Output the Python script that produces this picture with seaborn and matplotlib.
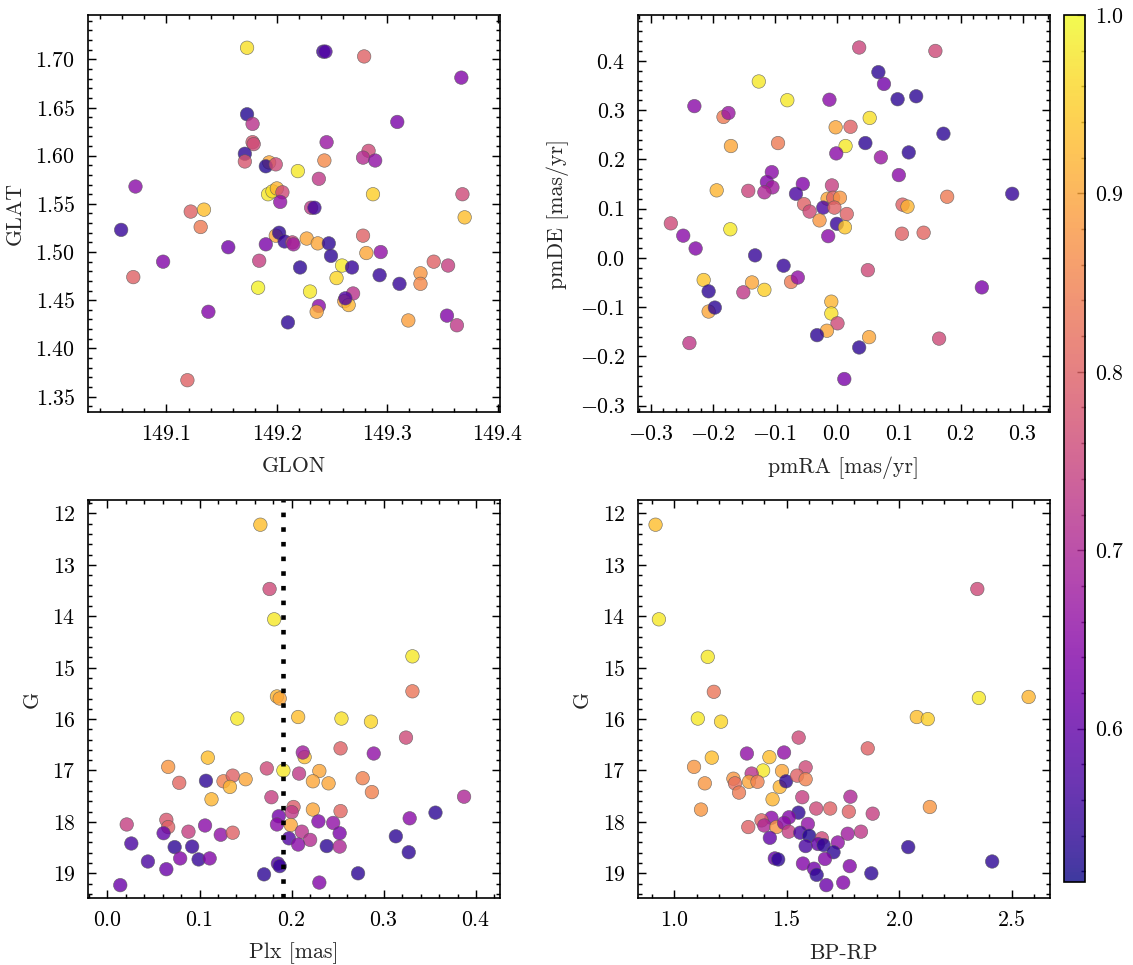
import numpy as np
import pandas as pd
import matplotlib
matplotlib.use('Agg')
import matplotlib.pyplot as plt
from matplotlib.ticker import MultipleLocator, AutoMinorLocator
from matplotlib.colors import Normalize
from matplotlib.cm import ScalarMappable
import seaborn as sns

# posiciones galacticas (panel superior izq.)
glon = [149.173, 149.242, 149.244, 149.279, 149.367, 149.173, 149.178, 149.309, 149.178, 149.179,
        149.245, 149.171, 149.171, 149.193, 149.190, 149.199, 149.243, 149.283, 149.278, 149.289,
        149.219, 149.238, 149.287, 149.072, 149.192, 149.196, 149.200, 149.205, 149.203, 149.231,
        149.234, 149.368, 149.370, 149.122, 149.134, 149.131, 149.059, 149.156, 149.097, 149.070,
        149.199, 149.202, 149.207, 149.190, 149.214, 149.215, 149.227, 149.237, 149.247, 149.249,
        149.278, 149.281, 149.294, 149.184, 149.221, 149.259, 149.268, 149.254, 149.293, 149.311,
        149.330, 149.330, 149.342, 149.355, 149.183, 149.230, 149.269, 149.261, 149.265, 149.262,
        149.238, 149.236, 149.138, 149.210, 149.319, 149.354, 149.363, 149.119]
glat = [1.712, 1.708, 1.708, 1.703, 1.681, 1.643, 1.633, 1.635, 1.614, 1.612,
        1.614, 1.602, 1.594, 1.593, 1.589, 1.591, 1.595, 1.605, 1.598, 1.595,
        1.584, 1.576, 1.560, 1.568, 1.560, 1.563, 1.566, 1.562, 1.552, 1.546,
        1.546, 1.560, 1.536, 1.542, 1.544, 1.526, 1.523, 1.505, 1.490, 1.474,
        1.517, 1.520, 1.511, 1.508, 1.510, 1.508, 1.514, 1.509, 1.509, 1.496,
        1.517, 1.499, 1.500, 1.491, 1.484, 1.486, 1.484, 1.473, 1.476, 1.467,
        1.478, 1.467, 1.490, 1.486, 1.463, 1.459, 1.457, 1.449, 1.445, 1.452,
        1.444, 1.438, 1.438, 1.427, 1.429, 1.434, 1.424, 1.367]
prob_pos = [0.97, 0.56, 0.58, 0.80, 0.64, 0.53, 0.72, 0.63, 0.78, 0.76,
            0.67, 0.54, 0.78, 0.90, 0.53, 0.76, 0.86, 0.76, 0.71, 0.66,
            0.98, 0.73, 0.95, 0.65, 0.98, 0.97, 0.92, 0.76, 0.66, 0.73,
            0.56, 0.76, 0.93, 0.80, 0.93, 0.84, 0.55, 0.62, 0.64, 0.80,
            0.90, 0.54, 0.55, 0.63, 0.75, 0.68, 0.90, 0.90, 0.54, 0.54,
            0.80, 0.90, 0.66, 0.74, 0.54, 0.98, 0.55, 0.96, 0.55, 0.55,
            0.88, 0.86, 0.80, 0.74, 0.99, 0.98, 0.72, 0.90, 0.92, 0.58,
            0.65, 0.90, 0.64, 0.54, 0.89, 0.64, 0.73, 0.80]

# movimientos propios (panel superior der.)
pmra = [0.036, 0.159, 0.067, 0.076, 0.098, 0.128, -0.126, -0.080, -0.012, -0.230,
        -0.183, -0.175, 0.053, -0.002, 0.022, 0.172, -0.171, -0.095, 0.014, 0.046,
        -0.001, 0.071, 0.116, 0.100, -0.105, -0.113, -0.104, -0.117, -0.143, -0.194,
        -0.055, -0.066, -0.008, -0.015, -0.006, 0.005, -0.053, -0.044, -0.022, -0.004,
        -0.028, 0.016, 0.000, 0.013, -0.014, 0.106, 0.114, 0.178, 0.283, 0.105,
        0.140, -0.268, -0.248, -0.228, -0.172, -0.132, -0.086, 0.050, -0.074, -0.063,
        -0.215, -0.137, -0.117, -0.151, -0.207, -0.207, -0.197, 0.234, -0.009, -0.009,
        0.001, -0.016, -0.032, 0.052, 0.036, 0.165, -0.238, 0.012]
pmde = [0.427, 0.420, 0.377, 0.353, 0.322, 0.328, 0.358, 0.320, 0.321, 0.308,
        0.286, 0.294, 0.284, 0.265, 0.266, 0.252, 0.227, 0.233, 0.227, 0.233,
        0.212, 0.204, 0.214, 0.168, 0.174, 0.154, 0.143, 0.133, 0.136, 0.137,
        0.150, 0.130, 0.147, 0.120, 0.122, 0.122, 0.109, 0.094, 0.102, 0.102,
        0.076, 0.089, 0.069, 0.062, 0.044, 0.108, 0.104, 0.124, 0.130, 0.049,
        0.051, 0.070, 0.045, 0.019, 0.058, 0.005, -0.016, -0.025, -0.049, -0.040,
        -0.045, -0.050, -0.065, -0.070, -0.068, -0.109, -0.101, -0.060, -0.089, -0.113,
        -0.133, -0.148, -0.157, -0.161, -0.182, -0.164, -0.173, -0.246]
prob_pm = [0.75, 0.76, 0.54, 0.62, 0.54, 0.54, 0.98, 0.98, 0.65, 0.65,
           0.84, 0.67, 0.97, 0.90, 0.80, 0.54, 0.90, 0.84, 0.98, 0.54,
           0.65, 0.67, 0.54, 0.65, 0.65, 0.64, 0.68, 0.70, 0.75, 0.92,
           0.64, 0.57, 0.74, 0.90, 0.80, 0.88, 0.80, 0.76, 0.57, 0.80,
           0.88, 0.80, 0.55, 0.94, 0.65, 0.80, 0.92, 0.84, 0.55, 0.80,
           0.81, 0.76, 0.65, 0.64, 0.98, 0.55, 0.55, 0.76, 0.84, 0.66,
           0.94, 0.90, 0.95, 0.73, 0.54, 0.90, 0.54, 0.63, 0.92, 0.97,
           0.76, 0.90, 0.54, 0.90, 0.54, 0.76, 0.73, 0.63]

# paralaje vs magnitud (panel inferior izq.)
plx = [0.166, 0.176, 0.181, 0.331, 0.331, 0.184, 0.187, 0.141, 0.207, 0.254,
       0.286, 0.324, 0.253, 0.289, 0.214, 0.212, 0.109, 0.066, 0.173, 0.191,
       0.208, 0.230, 0.223, 0.240, 0.277, 0.287, 0.078, 0.107, 0.126, 0.136,
       0.133, 0.150, 0.113, 0.178, 0.387, 0.202, 0.200, 0.223, 0.253, 0.356,
       0.328, 0.186, 0.184, 0.199, 0.229, 0.245, 0.252, 0.211, 0.220, 0.197,
       0.207, 0.238, 0.252, 0.313, 0.327, 0.021, 0.064, 0.066, 0.061, 0.088,
       0.106, 0.123, 0.136, 0.026, 0.073, 0.092, 0.044, 0.079, 0.099, 0.111,
       0.064, 0.014, 0.185, 0.187, 0.170, 0.230, 0.272]
g_plx = [12.22, 13.47, 14.06, 14.78, 15.46, 15.56, 15.60, 15.99, 15.96, 15.99,
         16.05, 16.36, 16.57, 16.67, 16.74, 16.65, 16.75, 16.93, 16.96, 17.00,
         17.06, 17.01, 17.21, 17.25, 17.15, 17.42, 17.24, 17.20, 17.21, 17.10,
         17.32, 17.17, 17.56, 17.52, 17.51, 17.71, 17.81, 17.76, 17.79, 17.82,
         17.93, 17.89, 18.05, 18.06, 17.99, 18.02, 18.22, 18.19, 18.35, 18.32,
         18.44, 18.47, 18.48, 18.28, 18.59, 18.05, 17.96, 18.10, 18.22, 18.19,
         18.07, 18.25, 18.21, 18.42, 18.49, 18.48, 18.77, 18.71, 18.73, 18.71,
         18.92, 19.23, 18.81, 18.86, 19.02, 19.18, 19.00]
prob_plx = [0.93, 0.76, 0.98, 0.98, 0.83, 0.92, 0.90, 0.98, 0.93, 0.97,
            0.96, 0.76, 0.80, 0.66, 0.93, 0.68, 0.93, 0.88, 0.76, 0.98,
            0.73, 0.90, 0.90, 0.90, 0.85, 0.85, 0.81, 0.54, 0.85, 0.80,
            0.92, 0.90, 0.92, 0.74, 0.70, 0.79, 0.73, 0.90, 0.81, 0.54,
            0.65, 0.62, 0.65, 0.90, 0.64, 0.66, 0.63, 0.72, 0.71, 0.58,
            0.65, 0.54, 0.70, 0.54, 0.54, 0.74, 0.78, 0.80, 0.60, 0.74,
            0.65, 0.66, 0.80, 0.57, 0.54, 0.55, 0.57, 0.64, 0.55, 0.64,
            0.61, 0.61, 0.58, 0.55, 0.54, 0.64, 0.54]
plx_line = 0.191

# diagrama color-magnitud (panel inferior der.)
bprp = [0.917, 0.932, 1.149, 1.176, 2.347, 2.354, 2.575, 2.078, 2.127, 1.105,
        1.208, 1.553, 1.860, 1.323, 1.488, 1.167, 1.423, 1.088, 1.395, 1.344,
        1.479, 1.584, 1.263, 1.270, 1.332, 1.370, 1.469, 1.497, 1.546, 1.584,
        1.136, 1.288, 1.437, 1.569, 1.783, 1.119, 1.631, 1.693, 1.776, 1.882,
        2.136, 1.552, 1.432, 1.510, 1.388, 1.400, 1.454, 1.488, 1.329, 1.509,
        1.594, 1.560, 1.600, 1.656, 1.425, 1.584, 1.639, 1.664, 1.727, 1.771,
        1.830, 1.708, 1.670, 1.447, 1.462, 1.572, 1.621, 1.633, 1.780, 1.876,
        1.676, 1.751, 2.040, 2.413]
g_cmd = [12.22, 14.06, 14.79, 15.47, 13.47, 15.59, 15.57, 15.96, 16.00, 15.99,
         16.05, 16.36, 16.57, 16.67, 16.65, 16.75, 16.74, 16.93, 17.00, 17.06,
         17.01, 16.94, 17.16, 17.25, 17.22, 17.22, 17.32, 17.21, 17.10, 17.17,
         17.25, 17.43, 17.56, 17.52, 17.51, 17.76, 17.74, 17.74, 17.80, 17.84,
         17.71, 17.82, 17.92, 17.91, 17.97, 18.07, 18.10, 18.02, 18.10, 18.19,
         18.04, 18.21, 18.27, 18.32, 18.31, 18.47, 18.43, 18.45, 18.40, 18.23,
         18.19, 18.59, 18.72, 18.71, 18.73, 18.81, 18.91, 19.03, 18.86, 19.00,
         19.23, 19.18, 18.49, 18.77]
prob_cmd = [0.93, 0.98, 0.98, 0.83, 0.76, 0.98, 0.92, 0.93, 0.95, 0.98,
            0.96, 0.76, 0.80, 0.66, 0.66, 0.93, 0.93, 0.88, 0.98, 0.72,
            0.90, 0.76, 0.88, 0.82, 0.90, 0.85, 0.92, 0.54, 0.80, 0.85,
            0.88, 0.84, 0.92, 0.74, 0.70, 0.88, 0.76, 0.80, 0.80, 0.74,
            0.88, 0.54, 0.65, 0.64, 0.80, 0.70, 0.88, 0.65, 0.80, 0.74,
            0.66, 0.57, 0.53, 0.76, 0.60, 0.57, 0.60, 0.54, 0.66, 0.68,
            0.73, 0.54, 0.64, 0.60, 0.54, 0.64, 0.62, 0.54, 0.64, 0.54,
            0.61, 0.64, 0.54, 0.54]

vmin, vmax = 0.514, 1.0


def main():
    sns.set_style('ticks')
    plt.rcParams.update({
        'font.family': ['cmr10', 'DejaVu Serif'],
        'mathtext.fontset': 'cm',
        'axes.formatter.use_mathtext': True,
        'axes.unicode_minus': True,
        'font.size': 10.5,
        'axes.labelsize': 10.5,
        'xtick.labelsize': 10.5,
        'ytick.labelsize': 10.5,
        'axes.linewidth': 0.8,
        'axes.edgecolor': 'black',
        'xtick.color': 'black',
        'ytick.color': 'black',
    })

    fig = plt.figure(figsize=(1133 / 150, 965 / 150), dpi=150)
    w, h = 412 / 1133, 0.4114
    ax1 = fig.add_axes([88 / 1133, 1 - 412 / 965, w, h])
    ax2 = fig.add_axes([638 / 1133, 1 - 412 / 965, w, h])
    ax3 = fig.add_axes([88 / 1133, 1 - 898 / 965, w, 0.4124])
    ax4 = fig.add_axes([638 / 1133, 1 - 898 / 965, w, 0.4124])
    cax = fig.add_axes([1064 / 1133, 1 - 882 / 965, 21 / 1133, (882 - 15) / 965])

    paneles = [
        (ax1, glon, glat, prob_pos, 'GLON', 'GLAT'),
        (ax2, pmra, pmde, prob_pm, 'pmRA [mas/yr]', 'pmDE [mas/yr]'),
        (ax3, plx, g_plx, prob_plx, 'Plx [mas]', 'G'),
        (ax4, bprp, g_cmd, prob_cmd, 'BP-RP', 'G'),
    ]
    for ax, x, y, p, xl, yl in paneles:
        df = pd.DataFrame({'x': x, 'y': y, 'p': p})
        sns.scatterplot(data=df, x='x', y='y', hue='p', palette='plasma',
                        hue_norm=(vmin, vmax), s=42, alpha=0.8,
                        edgecolor='0.35', linewidth=0.3, legend=False, ax=ax)
        ax.set_xlabel(xl, labelpad=6)
        ax.set_ylabel(yl, labelpad=5)
        ax.xaxis.set_minor_locator(AutoMinorLocator(5))
        ax.yaxis.set_minor_locator(AutoMinorLocator(5))
        ax.tick_params(which='both', direction='in', top=True, right=True,
                       width=0.7)
        ax.tick_params(which='major', length=4, pad=6)
        ax.tick_params(which='minor', length=2)

    ax3.axvline(plx_line, color='black', lw=2.2, ls=(0, (1, 2.2)))

    ax1.set_xlim(149.029, 149.402)
    ax1.set_ylim(1.334, 1.746)
    ax1.xaxis.set_major_locator(MultipleLocator(0.1))
    ax1.yaxis.set_major_locator(MultipleLocator(0.05))
    ax1.ticklabel_format(useOffset=False)

    ax2.set_xlim(-0.321, 0.344)
    ax2.set_ylim(-0.313, 0.493)
    ax2.xaxis.set_major_locator(MultipleLocator(0.1))
    ax2.yaxis.set_major_locator(MultipleLocator(0.1))

    ax3.set_xlim(-0.021, 0.426)
    ax3.set_ylim(19.48, 11.74)
    ax3.xaxis.set_major_locator(MultipleLocator(0.1))
    ax3.yaxis.set_major_locator(MultipleLocator(1))

    ax4.set_xlim(0.839, 2.670)
    ax4.set_ylim(19.48, 11.74)
    ax4.xaxis.set_major_locator(MultipleLocator(0.5))
    ax4.yaxis.set_major_locator(MultipleLocator(1))

    sm = ScalarMappable(norm=Normalize(vmin, vmax), cmap='plasma')
    cb = fig.colorbar(sm, cax=cax, alpha=0.8)
    cb.outline.set_linewidth(0.8)
    cb.set_ticks([0.6, 0.7, 0.8, 0.9, 1.0])
    cax.yaxis.set_minor_locator(MultipleLocator(0.02))
    cax.tick_params(which='both', direction='in', width=0.7)
    cax.tick_params(which='major', length=4, pad=5)
    cax.tick_params(which='minor', length=2)

    fig.savefig('out.png', dpi=150)


if __name__ == '__main__':
    main()
